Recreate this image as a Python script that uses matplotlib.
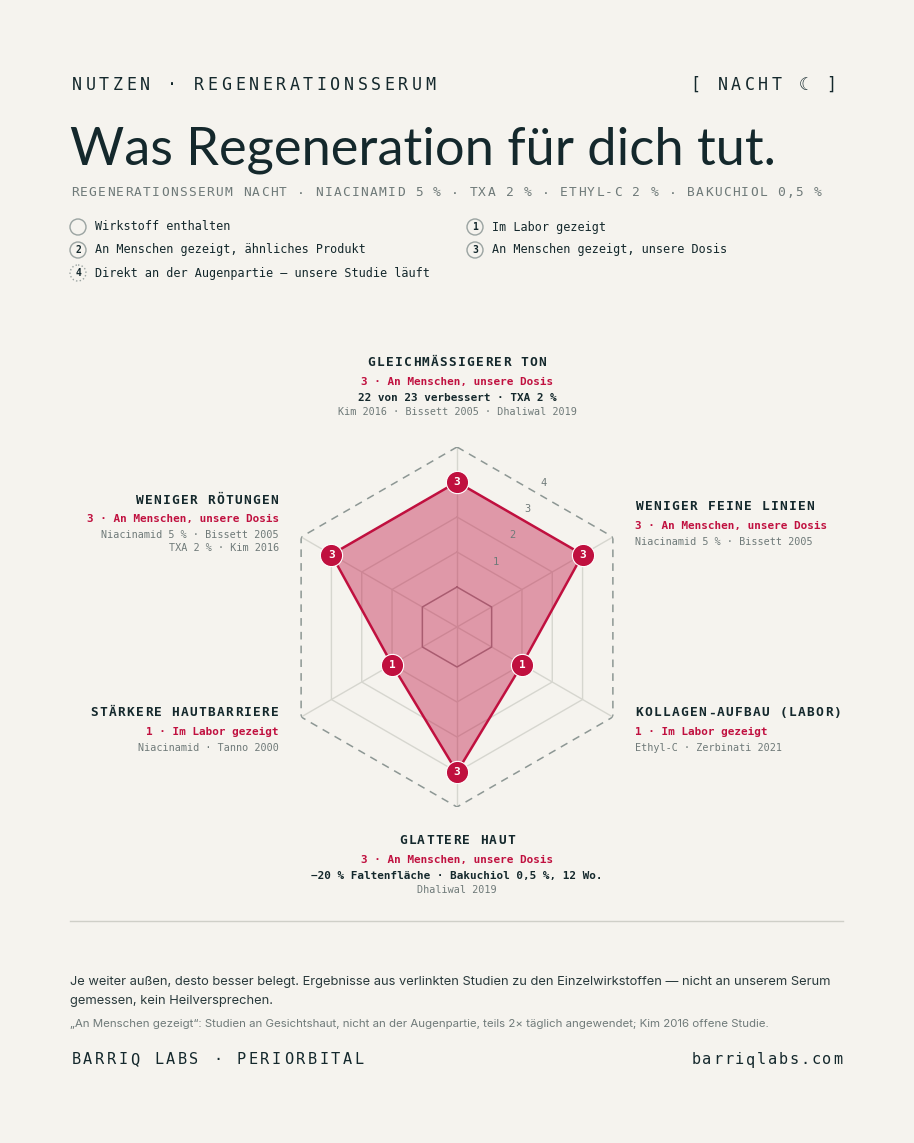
import numpy as np
import matplotlib
matplotlib.use("Agg")
import matplotlib.pyplot as plt
from matplotlib.patches import Circle

# ---- data ----
axes_labels = ["GLEICHMÄSSIGERER TON", "WENIGER FEINE LINIEN", "KOLLAGEN-AUFBAU (LABOR)",
               "GLATTERE HAUT", "STÄRKERE HAUTBARRIERE", "WENIGER RÖTUNGEN"]
values = [3, 3, 1, 3, 1, 3]
levels = ["1", "2", "3", "4"]
legend_items = [("", "Wirkstoff enthalten"), ("1", "Im Labor gezeigt"),
                ("2", "An Menschen gezeigt, ähnliches Produkt"), ("3", "An Menschen gezeigt, unsere Dosis"),
                ("4", "Direkt an der Augenpartie — unsere Studie läuft")]
red_lines = ["3 · An Menschen, unsere Dosis", "3 · An Menschen, unsere Dosis", "1 · Im Labor gezeigt",
             "3 · An Menschen, unsere Dosis", "1 · Im Labor gezeigt", "3 · An Menschen, unsere Dosis"]
dark_lines = ["22 von 23 verbessert · TXA 2 %", None, None,
              "−20 % Faltenfläche · Bakuchiol 0,5 %, 12 Wo.", None, None]
grey_lines = [["Kim 2016 · Bissett 2005 · Dhaliwal 2019"], ["Niacinamid 5 % · Bissett 2005"],
              ["Ethyl-C · Zerbinati 2021"], ["Dhaliwal 2019"], ["Niacinamid · Tanno 2000"],
              ["Niacinamid 5 % · Bissett 2005", "TXA 2 % · Kim 2016"]]

BG = "#f5f3ee"; DARK = "#14282c"; RED = "#c0103f"; GREY = "#6f7a79"
W, H = 914, 1143
MONO = ["DejaVu Sans Mono", "DejaVu Sans"]

fig = plt.figure(figsize=(W / 100, H / 100), dpi=100, facecolor=BG)
ov = fig.add_axes([0, 0, 1, 1], facecolor="none")
ov.set_xlim(0, W); ov.set_ylim(H, 0); ov.axis("off")

def spaced(x, y, s, pitch, size, color=DARK, ha="left", weight="normal"):
    n = len(s)
    total = pitch * n
    x0 = x if ha == "left" else (x - total / 2 if ha == "center" else x - total)
    for i, ch in enumerate(s):
        ov.text(x0 + pitch * (i + 0.5), y, ch, ha="center", va="center", fontsize=size,
                color=color, family=MONO, weight=weight)

def fit(x, y, s, width, size, **kw):
    t = ov.text(x, y, s, fontsize=size, va="center", **kw)
    fig.canvas.draw()
    w = t.get_window_extent().width
    t.set_fontsize(size * width / w)
    return t

spaced(70, 85, "NUTZEN · REGENERATIONSSERUM", 13.6, 12)
spaced(838, 85, "[ NACHT ☾ ]", 13.6, 12, ha="right")
fit(70, 150, "Was Regeneration für dich tut.", 706, 38, color=DARK, family="Lato")
sub = "REGENERATIONSSERUM NACHT · NIACINAMID 5 % · TXA 2 % · ETHYL-C 2 % · BAKUCHIOL 0,5 %"
spaced(70, 193, sub, 752 / len(sub), 9.3, color=GREY)

pos = [(78, 227), (475, 227), (78, 250), (475, 250), (78, 273)]
for (cx, cy), (num, lab) in zip(pos, legend_items):
    ls = ":" if num == "4" else "-"
    ov.add_patch(Circle((cx, cy), 8, fill=False, ec="#9aa3a1", lw=1, ls=ls))
    if num:
        ov.text(cx, cy, num, ha="center", va="center", fontsize=7, color=DARK, family=MONO, weight="bold")
    ov.text(cx + 17, cy, lab, ha="left", va="center", fontsize=8.5, color=DARK, family=MONO)

# ---- radar ----
cx, cy, R = 457, 627, 180
ax = fig.add_axes([(cx - R) / W, (H - cy - R) / H, 2 * R / W, 2 * R / H], projection="polar", facecolor="none")
inner = 40 / 35
ax.set_ylim(-inner, 4)
ax.set_theta_zero_location("N"); ax.set_theta_direction(-1)
ax.axis("off")
th = np.deg2rad(np.arange(0, 360, 60))
thc = np.append(th, th[0])
for t in th:
    ax.plot([t, t], [-inner, 4], color="#d6d6cf", lw=1, zorder=2)
for lv in [1, 2, 3]:
    ax.plot(thc, [lv] * 7, color="#d6d6cf", lw=1, zorder=2)
ax.plot(thc, [0] * 7, color="#9b8f92", lw=1.1, zorder=2)
ax.plot(thc, [4] * 7, color="#8d9794", lw=1.1, ls=(0, (5, 4)), zorder=2)
vc = values + values[:1]
ax.fill(thc, vc, color=RED, alpha=0.4, lw=0, zorder=3)
ax.plot(thc, vc, color=RED, lw=1.8, zorder=4)
ax.plot(th, values, "o", ms=16, color=RED, mec="white", mew=0.8, zorder=5)
for t, v in zip(th, values):
    ax.text(t, v, str(v), ha="center", va="center", color="white", fontsize=8, weight="bold",
            family=MONO, zorder=6)
for i, l in enumerate(levels):
    lv = i + 1
    ax.text(np.deg2rad(31), lv * 0.88 + 0.15, l, ha="center", va="center", fontsize=7.5, color=GREY, family=MONO)

# ---- axis labels ----
lab_pos = [(457, 363, "center"), (635, 507, "left"), (635, 713, "left"),
           (457, 841, "center"), (279, 713, "right"), (279, 500, "right")]
for i, (x, y, ha) in enumerate(lab_pos):
    spaced(x, y, axes_labels[i], 9.0, 9.3, ha=ha, weight="bold")
    yy = y + 19
    ov.text(x, yy, red_lines[i], ha=ha, va="center", fontsize=7.9, color=RED, family=MONO, weight="bold")
    yy += 16
    if dark_lines[i]:
        ov.text(x, yy, dark_lines[i], ha=ha, va="center", fontsize=7.9, color=DARK, family=MONO, weight="bold")
        yy += 14
    for g in grey_lines[i]:
        ov.text(x, yy, g, ha=ha, va="center", fontsize=7.3, color=GREY, family=MONO)
        yy += 13

ov.plot([70, 843], [921, 921], color="#cfcfc8", lw=1)
fit(70, 982, "Je weiter außen, desto besser belegt. Ergebnisse aus verlinkten Studien zu den Einzelwirkstoffen — nicht an unserem Serum",
    761, 10.5, color="#2a3a3c", family="Inter")
ov.text(70, 1001, "gemessen, kein Heilversprechen.", fontsize=ov.texts[-1].get_fontsize(), va="center",
        color="#2a3a3c", family="Inter")
fit(70, 1024, "„An Menschen gezeigt“: Studien an Gesichtshaut, nicht an der Augenpartie, teils 2× täglich angewendet; Kim 2016 offene Studie.",
    703, 8.5, color=GREY, family="Inter")
spaced(70, 1060, "BARRIQ LABS · PERIORBITAL", 11.8, 11)
spaced(843, 1060, "barriqlabs.com", 10.9, 11, ha="right")

fig.savefig("out.png", dpi=100, facecolor=BG)
